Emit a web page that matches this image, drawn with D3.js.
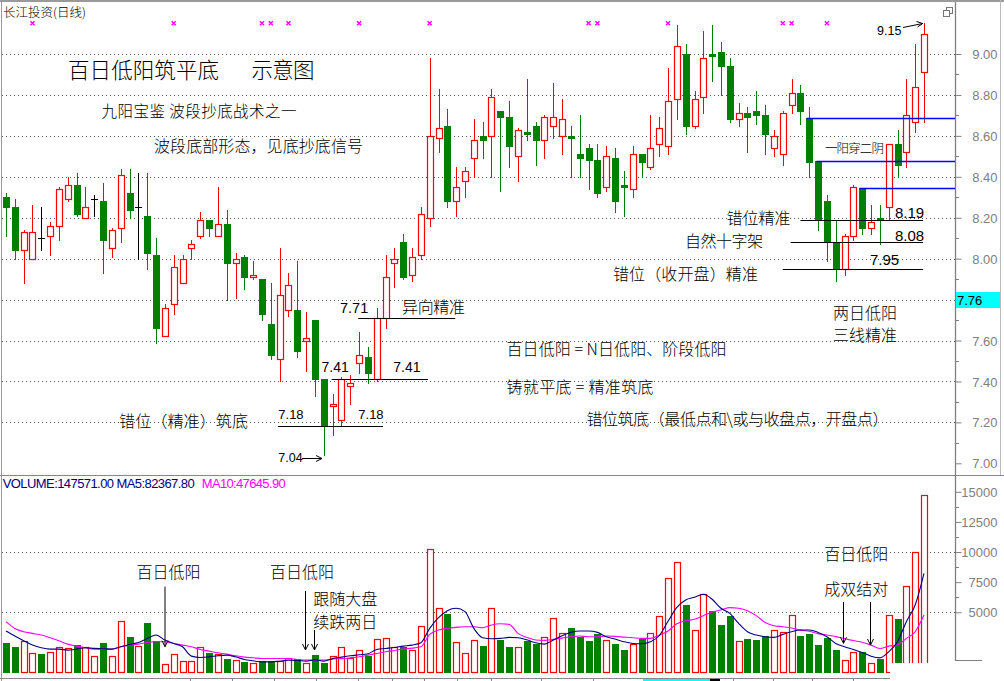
<!DOCTYPE html>
<html><head><meta charset="utf-8">
<script src="https://cdn.jsdelivr.net/npm/d3@7"></script>
<style>html,body{margin:0;padding:0;background:#fff;}svg{display:block}</style>
</head><body>
<svg id="c" width="1004" height="681"></svg>
<script>
// ---------------- data ----------------
const openP = [8.30,8.25,8.04,8.00,8.10,8.11,8.16,8.29,8.36,8.20,
 8.29,8.28,8.05,8.15,8.32,8.25,8.21,8.02,7.62,7.78,
 7.88,8.05,8.11,8.19,8.11,8.17,7.98,8.01,7.91,7.90,
 7.68,7.51,7.75,7.75,7.60,7.70,7.41,7.28,7.21,7.38,
 7.49,7.52,7.41,7.71,7.98,8.08,7.92,8.02,8.20,8.59,
 8.65,8.28,8.38,8.49,8.60,8.60,8.72,8.69,8.50,8.62,
 8.65,8.58,8.65,8.60,8.60,8.51,8.54,8.48,8.35,8.49,
 8.36,8.34,8.51,8.45,8.56,8.55,8.78,9.00,8.65,8.79,
 9.00,9.01,8.94,8.68,8.71,8.72,8.70,8.54,8.51,8.75,
 8.81,8.685,8.475,8.28,8.08,7.95,8.11,8.343,8.15,8.20,
 8.25,8.56,8.52,8.67,8.91];
const highP = [8.32,8.29,8.14,8.26,8.25,8.18,8.35,8.40,8.42,8.35,
 8.31,8.37,8.15,8.44,8.44,8.42,8.42,8.10,7.78,8.02,
 8.02,8.09,8.23,8.19,8.35,8.24,8.03,8.02,7.99,7.90,
 7.88,8.05,7.93,7.99,7.74,7.70,7.41,7.34,7.42,7.43,
 7.64,7.57,7.76,8.02,8.05,8.12,8.05,8.25,8.98,8.83,
 8.73,8.45,8.45,8.68,8.67,8.83,8.72,8.77,8.64,8.88,
 8.67,8.70,8.86,8.78,8.65,8.70,8.56,8.56,8.55,8.54,
 8.43,8.55,8.51,8.70,8.69,8.93,9.14,9.05,8.82,9.11,
 9.14,9.06,8.98,8.76,8.74,8.82,8.75,8.63,8.72,8.88,
 8.85,8.74,8.475,8.31,8.19,8.12,8.36,8.343,8.26,8.26,
 8.56,8.63,8.88,9.05,9.15];
const lowP = [8.11,8.00,7.88,8.00,8.04,8.02,8.09,8.28,8.21,8.20,
 8.21,7.93,8.01,8.08,8.20,8.00,7.95,7.59,7.62,7.73,
 7.88,8.00,8.10,8.11,8.11,7.80,7.81,7.85,7.90,7.70,
 7.51,7.40,7.72,7.52,7.45,7.33,7.04,7.14,7.18,7.29,
 7.44,7.39,7.40,7.66,7.86,7.90,7.89,8.00,8.16,8.52,
 8.25,8.21,8.30,8.40,8.49,8.40,8.33,8.45,8.38,8.58,
 8.46,8.49,8.59,8.51,8.40,8.40,8.34,8.30,8.33,8.23,
 8.21,8.30,8.40,8.44,8.50,8.51,8.68,8.61,8.64,8.71,
 8.87,8.80,8.67,8.65,8.52,8.66,8.51,8.50,8.46,8.71,
 8.66,8.40,8.14,7.99,7.89,7.92,8.09,8.12,8.12,8.07,
 8.19,8.40,8.45,8.62,8.67];
const closeP = [8.25,8.04,8.13,8.13,8.10,8.16,8.34,8.36,8.22,8.25,
 8.29,8.09,8.14,8.41,8.24,8.25,8.03,7.66,7.76,7.96,
 8.00,8.07,8.19,8.15,8.17,7.98,8.00,7.91,7.92,7.73,
 7.53,7.82,7.87,7.55,7.61,7.41,7.18,7.29,7.41,7.39,
 7.53,7.44,7.71,7.91,8.00,7.91,8.01,8.22,8.60,8.64,
 8.28,8.35,8.43,8.58,8.58,8.79,8.69,8.55,8.63,8.61,
 8.58,8.69,8.69,8.68,8.59,8.49,8.48,8.32,8.50,8.28,
 8.35,8.51,8.47,8.54,8.64,8.77,9.04,8.65,8.78,8.98,
 8.99,8.94,8.68,8.71,8.69,8.70,8.61,8.60,8.71,8.81,
 8.72,8.47,8.19,8.08,7.95,8.11,8.35,8.15,8.18,8.19,
 8.56,8.46,8.70,8.84,9.10];
const volume = [2440,2100,2580,1580,1530,1670,2080,2020,2270,2080,
 1330,2440,1360,4280,2940,2190,4110,2580,690,1530,
 940,940,2100,1610,1500,1140,1030,890,780,920,
 920,920,1170,1140,780,1440,800,1360,2140,1220,
 1830,1390,2750,2830,2140,2140,1830,3830,10250,5330,
 4860,2500,1580,2670,2190,5330,2690,2110,2080,2610,
 2330,2920,4500,3250,3690,2920,2610,3170,2670,2360,
 1860,2330,2780,3250,4690,7830,9170,5610,3530,6500,
 5140,3940,4690,2610,2800,2720,3030,3530,3330,4750,
 3030,3190,2280,2830,1860,1030,1670,1670,830,1110,
 4750,4440,7170,10000,14757];
const ma5 = [3440,3025,2635,2275,2050,1940,1940,1860,1940,2050,
 2000,1970,1940,2135,2330,2495,2830,3110,2690,2410,
 2135,1360,1250,1300,1385,1440,1300,1080,970,885,
 885,940,1025,1000,940,1050,940,1150,1274,1385,
 1468,1551,1913,1996,2080,2190,2274,2468,3663,4552,
 5135,5330,5052,3663,2885,2802,2829,2913,2885,2718,
 2468,2357,2700,3051,3329,3441,3441,3329,2968,2774,
 2552,2412,2385,2552,3051,4250,5400,6024,6246,6496,
 6080,5330,4913,4080,3385,3107,2968,2913,3163,3385,
 3524,3524,3329,2968,2412,2135,1913,1663,1357,1218,
 1718,2552,4218,5607,8237];
const ma10 = [4220,3660,3385,3245,3107,2885,2635,2357,2190,2050,
 1940,1940,1940,2135,2275,2357,2495,2550,2550,2410,
 2275,2135,1912,1775,1635,1525,1385,1275,1220,1163,
 1163,1163,1163,1080,1025,1025,1025,1120,1150,1218,
 1301,1440,1580,1718,1830,1940,2024,2135,3163,3524,
 3663,3746,3802,3802,3718,3941,4052,3996,3250,2920,
 2700,2663,2750,2850,2968,3024,2968,2968,3024,2996,
 2940,2885,2829,2829,3100,3450,4050,4290,4420,4719,
 5020,5191,5385,5330,5135,4719,4150,3885,3802,3700,
 3520,3420,3230,3107,2980,2810,2650,2510,2274,1996,
 2190,2300,2829,3385,4765];
const priceTicks = [7.0,7.2,7.4,7.6,8.0,8.2,8.4,8.6,8.8,9.0];
const priceGrid = [7.2,7.4,7.6,7.8,8.0,8.2,8.4,8.6,8.8,9.0];
const volTicks = [5000,7500,10000,12500,15000];
const volGrid = [5000,10000];
const markerBars = [4,20,30,31,33,41,49,67,68,76,89,90,94];
const blueLevels = [8.685,8.475,8.343];
const blueStart = [91.7,92.8,97.7];
const dateTicks = [21.8,26.6,31.4,36.1,40.9,44.7,48.4,52.1,55.9,61.6,67.5,73.2,83.4,87.9,92.3,96.9];

// ---------------- scales ----------------
const svg = d3.select('#c');
const x = d3.scaleLinear().domain([1,105]).range([6,924]);
const yP = d3.scaleLinear().domain([7,9]).range([463.3,54]);
const yV = d3.scaleLinear().domain([0,15000]).range([672.5,491.8]);
const RED='#ff0000', GREEN='#008000', GRID='#555', AX='#808080';
const CJK = '"Noto Sans CJK SC","Noto Sans CJK JP",sans-serif';
const LAT = '"Liberation Sans",Arial,sans-serif';
const r = v => Math.round(v);

svg.append('rect').attr('width',1004).attr('height',681).attr('fill','#fff');

// frame
svg.append('rect').attr('x',0).attr('y',0).attr('width',1004).attr('height',2).attr('fill','#9a9a9a');
svg.append('line').attr('x1',1.5).attr('x2',1.5).attr('y1',0).attr('y2',681).attr('stroke','#9a9a9a');
svg.append('line').attr('x1',0).attr('x2',1004).attr('y1',475.5).attr('y2',475.5).attr('stroke','#888');
svg.append('line').attr('x1',1000.5).attr('x2',1000.5).attr('y1',0).attr('y2',475).attr('stroke','#bbb');
svg.append('line').attr('x1',955.5).attr('x2',955.5).attr('y1',2).attr('y2',661).attr('stroke',AX).attr('stroke-width',1.3);
svg.append('line').attr('x1',955).attr('x2',982).attr('y1',660.5).attr('y2',660.5).attr('stroke',AX);
const ic = svg.append('g').attr('stroke','#777').attr('fill','#fff');
ic.append('rect').attr('x',946.5).attr('y',7.5).attr('width',6).attr('height',6);
ic.append('rect').attr('x',943.5).attr('y',10.5).attr('width',6).attr('height',6);

// grids
svg.append('g').selectAll('line').data(priceGrid).join('line')
  .attr('x1',2).attr('x2',955).attr('y1',d=>r(yP(d))+0.5).attr('y2',d=>r(yP(d))+0.5)
  .attr('stroke',GRID).attr('stroke-dasharray','1,3');
svg.append('g').selectAll('line').data(volGrid).join('line')
  .attr('x1',2).attr('x2',955).attr('y1',d=>r(yV(d))+0.5).attr('y2',d=>r(yV(d))+0.5)
  .attr('stroke',GRID).attr('stroke-dasharray','1,3');

// price axis (right)
const pAxis = d3.axisRight(yP).tickValues(priceTicks).tickSize(6).tickFormat(d3.format('.2f'));
const gp = svg.append('g').attr('transform','translate(955.5,0)').call(pAxis);
gp.select('.domain').remove();
gp.selectAll('line').attr('stroke',AX);
gp.selectAll('text').attr('x',42).attr('text-anchor','end').attr('fill',AX)
  .attr('font-family',LAT).attr('font-size',13).attr('dy','0.35em');
const minorP = d3.range(7.1,9.0,0.2).concat([7.8]);
svg.append('g').selectAll('line').data(minorP).join('line')
  .attr('x1',955).attr('x2',959).attr('y1',d=>r(yP(d))+0.5).attr('y2',d=>r(yP(d))+0.5).attr('stroke',AX);
// volume axis
const vAxis = d3.axisRight(yV).tickValues(volTicks).tickSize(6).tickFormat(d3.format('d'));
const gv = svg.append('g').attr('transform','translate(955.5,0)').call(vAxis);
gv.select('.domain').remove();
gv.selectAll('line').attr('stroke',AX);
gv.selectAll('text').attr('x',42).attr('text-anchor','end').attr('fill',AX)
  .attr('font-family',LAT).attr('font-size',13).attr('dy','0.35em');
svg.append('g').selectAll('line').data([6250,8750,11250,13750]).join('line')
  .attr('x1',955).attr('x2',959).attr('y1',d=>r(yV(d))+0.5).attr('y2',d=>r(yV(d))+0.5).attr('stroke',AX);

// current price box
svg.append('rect').attr('x',956).attr('y',292).attr('width',44).attr('height',16).attr('fill','#00ffff');
svg.append('text').attr('x',957).attr('y',300).attr('dominant-baseline','central')
  .attr('font-family',LAT).attr('font-size',13).attr('fill','#000').text('7.76');

// ---------------- candles ----------------
const bars = d3.range(openP.length).map(k=>({i:k+1,o:openP[k],h:highP[k],l:lowP[k],c:closeP[k],v:volume[k]}));
bars.forEach((d,k)=>{
  d.doji = d.o===d.c;
  d.up = d.doji ? (k>0 && d.c>=bars[k-1].c) : d.c>d.o;
});
const gc = svg.append('g');
bars.forEach(d=>{
  const cx = r(x(d.i));
  const col = d.doji ? '#000' : (d.up ? RED : GREEN);
  gc.append('line').attr('x1',cx+0.5).attr('x2',cx+0.5).attr('y1',r(yP(d.h))).attr('y2',r(yP(d.l))+1)
    .attr('stroke',col).attr('stroke-width',1);
  const top = r(yP(Math.max(d.o,d.c))), bot = r(yP(Math.min(d.o,d.c)));
  if (d.doji) {
    gc.append('line').attr('x1',cx-3).attr('x2',cx+4).attr('y1',top+0.5).attr('y2',top+0.5).attr('stroke','#000');
  } else if (d.up) {
    gc.append('rect').attr('x',cx-2.5).attr('y',top+0.5).attr('width',6).attr('height',Math.max(1,bot-top))
      .attr('fill','#fff').attr('stroke',RED).attr('stroke-width',1.2);
  } else {
    gc.append('rect').attr('x',cx-3).attr('y',top).attr('width',7).attr('height',Math.max(2,bot-top+1))
      .attr('fill',GREEN);
  }
});

// ---------------- volume ----------------
const gvb = svg.append('g');
const base = r(yV(0));
bars.forEach(d=>{
  const cx = r(x(d.i)); const t = r(yV(d.v));
  if (d.up) gvb.append('rect').attr('x',cx-2.5).attr('y',t+0.5).attr('width',6).attr('height',base-t-1)
      .attr('fill','#fff').attr('stroke',RED).attr('stroke-width',1.2);
  else gvb.append('rect').attr('x',cx-3).attr('y',t).attr('width',7).attr('height',base-t).attr('fill',GREEN);
});
const line = arr => d3.line().x((v,k)=>x(k+1)).y(v=>yV(v)).curve(d3.curveMonotoneX)(arr);
svg.append('path').attr('d',line(ma10)).attr('fill','none').attr('stroke','#ff00ff').attr('stroke-width',1.1);
svg.append('path').attr('d',line(ma5)).attr('fill','none').attr('stroke','#000080').attr('stroke-width',1.1);

// bottom axis
svg.append('line').attr('x1',0).attr('x2',890).attr('y1',678.5).attr('y2',678.5).attr('stroke','#888');
svg.append('g').selectAll('line').data(dateTicks).join('line')
  .attr('x1',d=>r(x(d))+0.5).attr('x2',d=>r(x(d))+0.5).attr('y1',678).attr('y2',681).attr('stroke','#888');
svg.append('rect').attr('x',643).attr('y',679).attr('width',77).attr('height',2).attr('fill','#00ffff');
svg.append('rect').attr('x',710).attr('y',679).attr('width',10).attr('height',2).attr('fill','#000');
svg.append('rect').attr('x',890).attr('y',663).attr('width',114).attr('height',18).attr('fill','#fff');

// markers
svg.append('g').selectAll('path').data(markerBars).join('path')
  .attr('d',d=>`M${x(d)-2},21.3L${x(d)+2},25.3M${x(d)-2},25.3L${x(d)+2},21.3`)
  .attr('stroke','#ff00ff').attr('stroke-width',1.4);

// ---------------- annotations ----------------
function txt(s,tx,ty,size,opt={}) {
  const t = svg.append('text').attr('x',tx).attr('y',ty).attr('dominant-baseline','central')
    .attr('font-family',opt.lat?LAT:CJK).attr('font-size',size).attr('fill',opt.fill||'#000').text(s);
  if (!opt.lat) t.attr('font-weight',300);
  if (opt.len) t.attr('textLength',opt.len).attr('lengthAdjust','spacing');
  return t;
}
function hline(p,i1,i2,col,w) {
  svg.append('line').attr('x1',x(i1)).attr('x2',typeof i2==='string'?955:x(i2))
    .attr('y1',r(yP(p))+0.5).attr('y2',r(yP(p))+0.5).attr('stroke',col||'#000').attr('stroke-width',w||1);
}
function arrowDown(ax,y1,y2) {
  svg.append('line').attr('x1',ax+0.5).attr('x2',ax+0.5).attr('y1',y1).attr('y2',y2).attr('stroke','#000');
  svg.append('path').attr('d',`M${ax-2.5},${y2-6}L${ax+0.5},${y2}L${ax+3.5},${y2-6}`).attr('fill','none').attr('stroke','#000');
}

txt('长江投资(日线)',3,11.7,12.5);
txt('百日低阳筑平底',68,68.5,21.5,{len:151});
txt('示意图',251.5,68.5,21.5,{len:63});
txt('九阳宝鉴 波段抄底战术之一',101.5,110.3,15.5,{len:195});
txt('波段底部形态，见底抄底信号',154,145,16,{len:209});

hline(7.18,31.8,43.7);
hline(7.41,37.9,48.8);
hline(7.71,40.9,51.9);
txt('7.18',278.3,414.3,13,{lat:1});
txt('7.18',358.3,414.3,13,{lat:1});
txt('7.41',321.5,366.7,14,{lat:1});
txt('7.41',393.3,366.7,14,{lat:1});
txt('7.71',340,308.3,14.5,{lat:1});
txt('异向精准',402,306,16,{len:63});
txt('7.04',278.3,458,12.5,{lat:1});
svg.append('line').attr('x1',302).attr('x2',322).attr('y1',458.5).attr('y2',458.5).attr('stroke','#000');
svg.append('path').attr('d','M316,455.5L322,458.5L316,461.5').attr('fill','none').attr('stroke','#000');
txt('错位（精准）筑底',119,420,16,{len:129});

txt('百日低阳 = N日低阳、阶段低阳',506.5,348.3,16,{len:220});
txt('铸就平底 = 精准筑底',506.5,386,16,{len:147});
txt('错位筑底（最低点和\\或与收盘点，开盘点）',586.5,418.3,16,{len:302});

blueLevels.forEach((p,k)=>hline(p,blueStart[k],'axis','#0000ff',1.6));
hline(8.19,91,104.9);
hline(8.08,89.9,104.9);
hline(7.95,89,104.9);
txt('一阳穿二阴',825,147.7,12.5,{len:59});
txt('错位精准',726.5,216.7,16,{len:64});
txt('8.19',895,212,15,{lat:1});
txt('自然十字架',685,240,16,{len:78});
txt('8.08',895,235,15,{lat:1});
txt('错位（收开盘）精准',613,273.3,16,{len:145});
txt('7.95',870,259,15,{lat:1});
txt('两日低阳',833,311.7,16,{len:64});
txt('三线精准',833,334,16,{len:64});
txt('9.15',877,30.7,12.5,{lat:1});
svg.append('path').attr('d','M903,27.5L922.7,23.5').attr('stroke','#000').attr('fill','none');
svg.append('path').attr('d','M916.5,21.5L922.7,23.5L917.5,27').attr('stroke','#000').attr('fill','none');

txt('VOLUME:147571.00 MA5:82367.80',2.7,483.3,13,{lat:1,fill:'#000080',len:192});
txt('MA10:47645.90',201.7,483.3,13,{lat:1,fill:'#ff00ff',len:84});
txt('百日低阳',136.5,571,16,{len:64});
arrowDown(164.5,586.7,646.7);
txt('百日低阳',270,571,16,{len:64});
txt('跟随大盘',313.3,597.7,16,{len:64});
txt('续跌两日',313.3,621,16,{len:64});
arrowDown(305,591,650);
arrowDown(314,630,650);
txt('百日低阳',824.3,553.3,16,{len:64});
txt('成双结对',824.3,588.3,16,{len:64});
arrowDown(843,602,643.3);
arrowDown(870,602,645);
</script>
</body></html>
